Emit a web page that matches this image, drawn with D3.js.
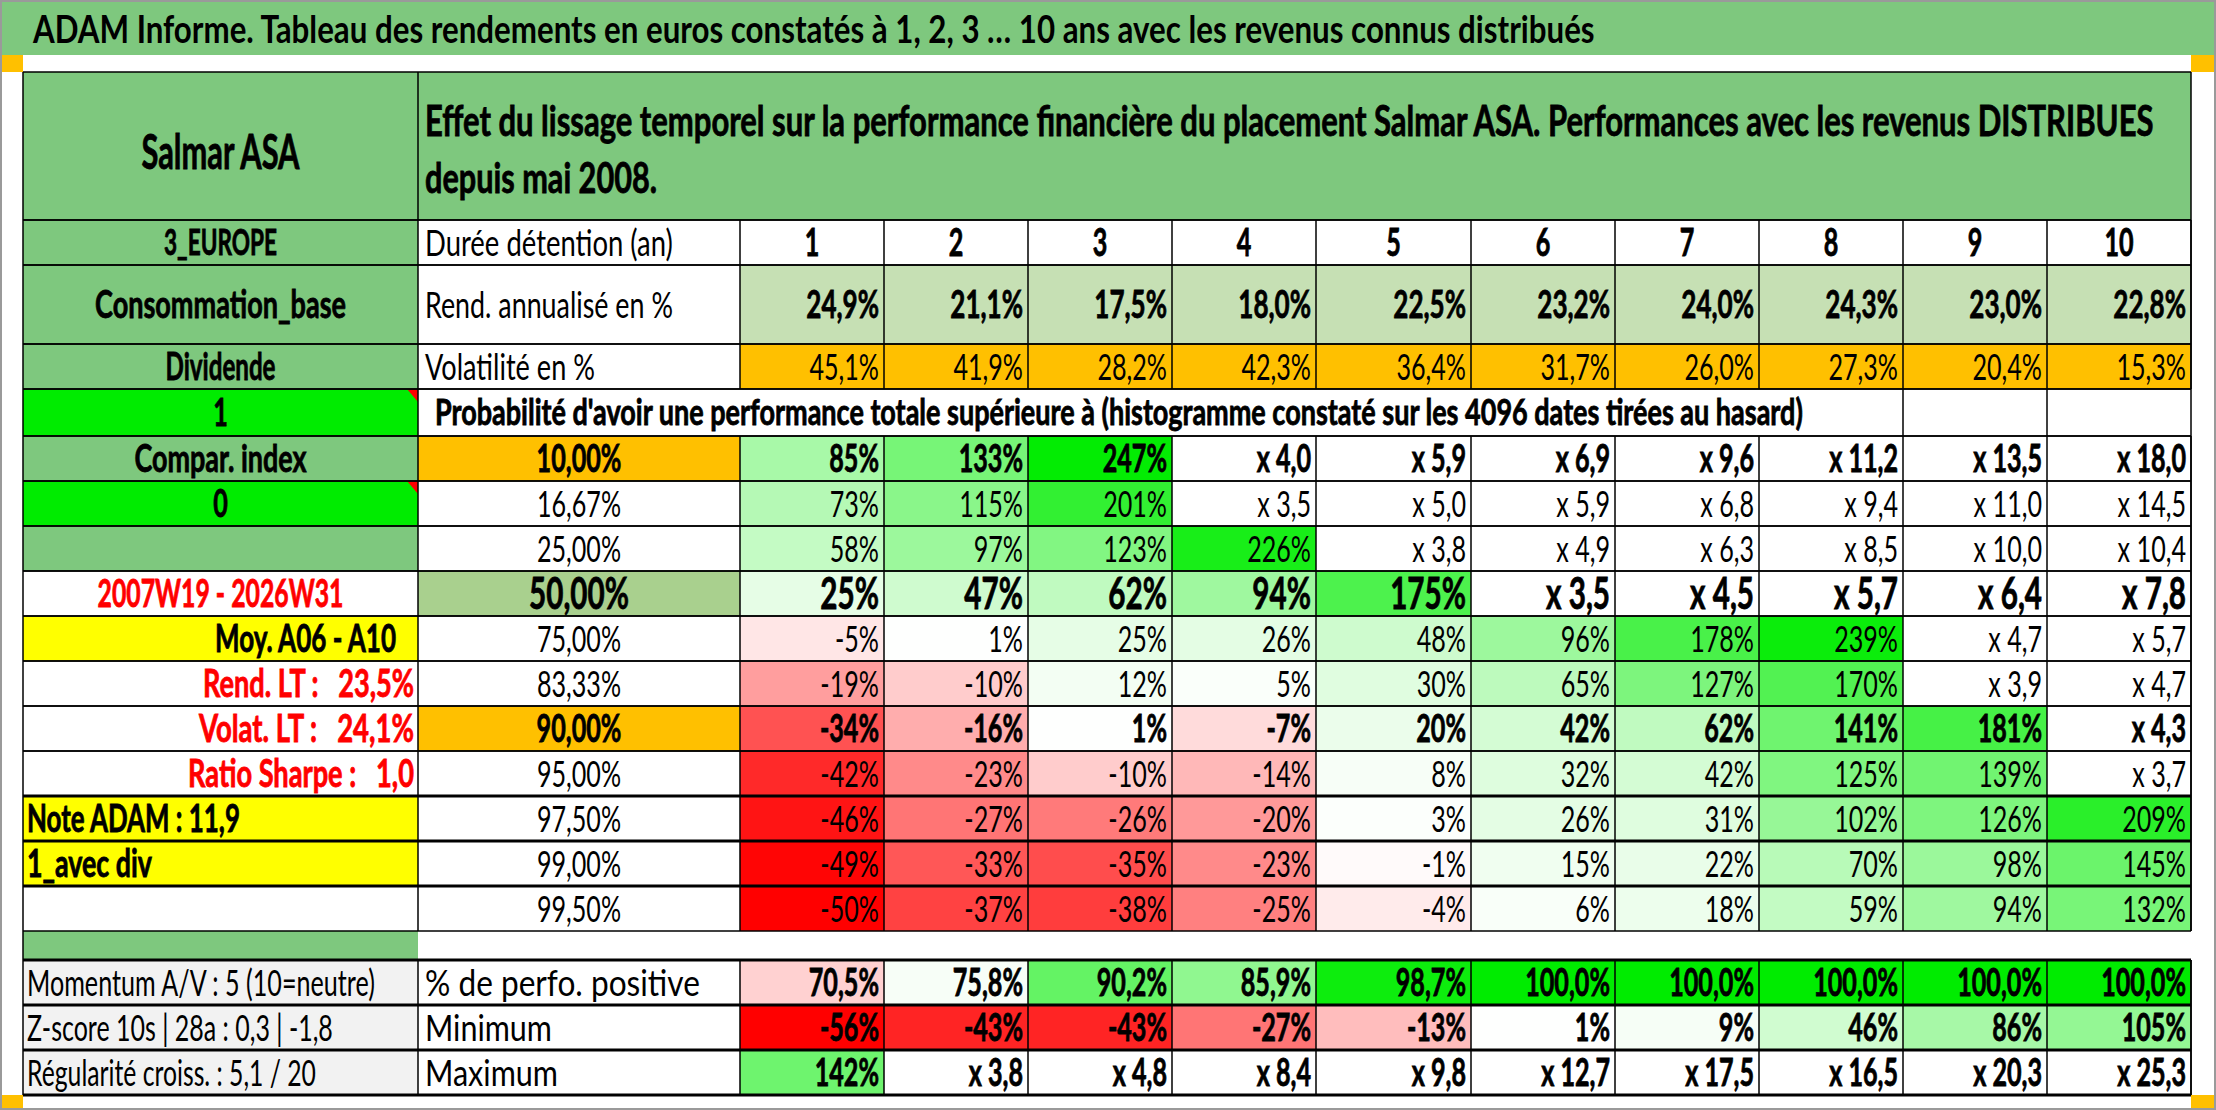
<!DOCTYPE html>
<html>
<head>
<meta charset="utf-8">
<script src="https://cdn.jsdelivr.net/npm/d3@7"></script>
<style>
  html, body { margin: 0; padding: 0; background: #fff; }
  svg text {
    font-family: Lato, "Open Sans", sans-serif;
    white-space: pre;
  }
</style>
</head>
<body>
<svg id="chart" width="2216" height="1110"></svg>
<script>
// ---- data ----
const years = [1, 2, 3, 4, 5, 6, 7, 8, 9, 10]
const rendAnnualise = [24.9, 21.1, 17.5, 18.0, 22.5, 23.2, 24.0, 24.3, 23.0, 22.8]
const volatilite = [45.1, 41.9, 28.2, 42.3, 36.4, 31.7, 26.0, 27.3, 20.4, 15.3]
const quantiles = ['10,00%', '16,67%', '25,00%', '50,00%', '75,00%', '83,33%', '90,00%', '95,00%', '97,50%', '99,00%', '99,50%']
// performance totale en % (une valeur >= 250 % s'affiche en multiple "x n")
const perfQ10 = [85, 133, 247, 300, 490, 590, 860, 1020, 1250, 1700]
const perfQ16 = [73, 115, 201, 250, 400, 490, 580, 840, 1000, 1350]
const perfQ25 = [58, 97, 123, 226, 280, 390, 530, 750, 900, 940]
const perfQ50 = [25, 47, 62, 94, 175, 250, 350, 470, 540, 680]
const perfQ75 = [-5, 1, 25, 26, 48, 96, 178, 239, 370, 470]
const perfQ83 = [-19, -10, 12, 5, 30, 65, 127, 170, 290, 370]
const perfQ90 = [-34, -16, 1, -7, 20, 42, 62, 141, 181, 330]
const perfQ95 = [-42, -23, -10, -14, 8, 32, 42, 125, 139, 270]
const perfQ975 = [-46, -27, -26, -20, 3, 26, 31, 102, 126, 209]
const perfQ99 = [-49, -33, -35, -23, -1, 15, 22, 70, 98, 145]
const perfQ995 = [-50, -37, -38, -25, -4, 6, 18, 59, 94, 132]
const perfPositive = [70.5, 75.8, 90.2, 85.9, 98.7, 100.0, 100.0, 100.0, 100.0, 100.0]
const perfMin = [-56, -43, -43, -27, -13, 1, 9, 46, 86, 105]
const perfMax = [142, 280, 380, 740, 880, 1170, 1650, 1550, 1930, 2430]
const leftLabels = ['Salmar ASA', '3_EUROPE', 'Consommation_base', 'Dividende', '1', 'Compar. index', '0', '',
  '2007W19 - 2026W31', 'Moy. A06 - A10', 'Rend. LT :   23,5%', 'Volat. LT :   24,1%', 'Ratio Sharpe :   1,0',
  'Note ADAM : 11,9', '1_avec div', '', '',
  'Momentum A/V : 5 (10=neutre)', 'Z-score 10s | 28a : 0,3 | -1,8', 'Régularité croiss. : 5,1 / 20']
const title = 'ADAM Informe. Tableau des rendements en euros constatés à 1, 2, 3 … 10 ans avec les revenus connus distribués'
const headLines = ['Effet du lissage temporel sur la performance financière du placement Salmar ASA. Performances avec les revenus DISTRIBUES',
  'depuis mai 2008.']
const probText = "Probabilité d'avoir une performance totale supérieure à (histogramme constaté sur les 4096 dates tirées au hasard)"
const midLabels = ['Durée détention (an)', 'Rend. annualisé en %', 'Volatilité en %', '% de perfo. positive', 'Minimum', 'Maximum']

// ---- layout ----
const GREEN = '#7ec87e', BRIGHT = '#00ec00', ORANGE = '#ffc000', YELLOW = '#ffff00', GREY = '#f2f2f2'
const SX = 0.67   // horizontal squeeze: the screenshot font is much narrower than Lato
const K = 1.34    // size factor

const qKeys = quantiles.map((d, i) => 'q' + i)
const rowKeys = ['head', 'duree', 'rend', 'vol', 'prob', ...qKeys, 'gap', 'pos', 'min', 'max']
const rowEdges = [72, 220, 265, 344, 389, 436, 481, 526, 571, 616, 661, 706, 751, 796, 841, 886, 931, 960, 1005, 1050, 1095]
const yTop = d3.scaleOrdinal().domain(rowKeys).range(rowEdges.slice(0, -1))
const yBot = d3.scaleOrdinal().domain(rowKeys).range(rowEdges.slice(1))
const yMid = k => (yTop(k) + yBot(k)) / 2

const colEdges = [740, 884, 1028, 1172, 1316, 1471, 1615, 1759, 1903, 2047, 2191]
const xL = d3.scaleOrdinal().domain(years).range(colEdges.slice(0, -1))
const xR = d3.scaleOrdinal().domain(years).range(colEdges.slice(1))
const X0 = 23, X1 = 418, X2 = 740, XE = 2191

const green = d3.scaleLinear().domain([0, 250]).range(['#ffffff', BRIGHT]).clamp(true)
const red = d3.scaleLinear().domain([-50, 0]).range(['#ff0000', '#ffffff']).clamp(true)
const heat = p => p >= 250 ? '#ffffff' : (p >= 0 ? green(p) : red(p))
const posScale = d3.scaleLinear().domain([50, 75, 100]).range(['#ff0000', '#ffffff', BRIGHT]).clamp(true)

const f1 = d3.format('.1f')
const fmtPerf = p => p >= 250 ? 'x ' + f1((p + 100) / 100).replace('.', ',') : Math.round(p) + '%'
const fmt1 = v => f1(v).replace('.', ',') + '%'

const svg = d3.select('#chart')
const gBg = svg.append('g'), gGrid = svg.append('g'), gTxt = svg.append('g')

function txt(x, yc, s, o = {}) {
  const fs = (o.size || 28) * K
  const color = o.color || '#000'
  const t = gTxt.append('text')
    .attr('text-anchor', o.anchor || 'start')
    .attr('font-size', fs)
    .attr('font-weight', o.bold ? 700 : 400)
    .attr('fill', color)
    .text(s)
  // the screenshot's bold is heavier than Lato Bold
  if (o.bold && !o.plain) t.attr('stroke', color).attr('stroke-width', 0.8)
  const sx = o.fit ? o.fit / t.node().getComputedTextLength() : SX
  t.attr('transform', `translate(${x},${yc + 0.355 * fs}) scale(${sx},1)`)
  return t
}
const rect = (x, y, w, h, fill) => gBg.append('rect').attr('x', x).attr('y', y).attr('width', w).attr('height', h).attr('fill', fill)

// ---- frame & title ----
rect(0, 0, 2216, 1110, '#fff')
rect(0, 0, 2216, 55, GREEN)
rect(0, 55, X0, 17, ORANGE); rect(XE, 55, 2216 - XE, 17, ORANGE)
rect(0, 1095, X0, 15, ORANGE); rect(XE, 1095, 2216 - XE, 15, ORANGE)
gBg.append('rect').attr('x', 1).attr('y', 1).attr('width', 2214).attr('height', 1108)
  .attr('fill', 'none').attr('stroke', '#9a9a9a').attr('stroke-width', 2)
txt(33, 29, title, { size: 29, bold: true, plain: true, fit: 1562 })

// ---- backgrounds ----
const leftFill = { head: GREEN, duree: GREEN, rend: GREEN, vol: GREEN, prob: BRIGHT, q0: GREEN, q1: BRIGHT, q2: GREEN,
  q3: '#fff', q4: YELLOW, q5: '#fff', q6: '#fff', q7: '#fff', q8: YELLOW, q9: YELLOW, q10: '#fff', gap: GREEN,
  pos: GREY, min: GREY, max: GREY }
rowKeys.forEach(k => rect(X0, yTop(k), X1 - X0, yBot(k) - yTop(k), leftFill[k]))
rect(X1, yTop('head'), XE - X1, yBot('head') - yTop('head'), GREEN)
rect(X1, yTop('q0'), X2 - X1, 45, ORANGE)
rect(X1, yTop('q3'), X2 - X1, 45, '#a9d08e')
rect(X1, yTop('q6'), X2 - X1, 45, ORANGE)

// comment markers on the two switches
;['prob', 'q1'].forEach(k => gBg.append('path')
  .attr('d', `M${X1 - 11},${yTop(k)}L${X1},${yTop(k)}L${X1},${yTop(k) + 13}Z`).attr('fill', '#ff0000'))

const cellRow = (key, values, color) => gBg.append('g').selectAll('rect').data(years).join('rect')
  .attr('x', d => xL(d)).attr('y', yTop(key))
  .attr('width', d => xR(d) - xL(d)).attr('height', yBot(key) - yTop(key))
  .attr('fill', (d, i) => color(values[i]))

const perfRows = [perfQ10, perfQ16, perfQ25, perfQ50, perfQ75, perfQ83, perfQ90, perfQ95, perfQ975, perfQ99, perfQ995]
cellRow('rend', rendAnnualise, () => '#c6e0b4')
cellRow('vol', volatilite, () => ORANGE)
perfRows.forEach((vals, i) => cellRow(qKeys[i], vals, heat))
cellRow('pos', perfPositive, posScale)
cellRow('min', perfMin, heat)
cellRow('max', perfMax, heat)

// ---- grid ----
const lines = []
const thick = new Set(['q7', 'q8', 'q9', 'pos', 'min', 'max'])
rowKeys.forEach(k => {
  if (k === 'gap') return
  const t = yTop(k), b = yBot(k)
  lines.push({ x1: X0, y1: t, x2: XE, y2: t, w: k === 'pos' ? 3 : 1.5 })
  lines.push({ x1: X0, y1: b, x2: XE, y2: b, w: thick.has(k) ? 3 : 1.5 })
  const xs = [X0, X1, XE]
  if (k === 'prob') xs.push(1903, 2047)
  else if (k !== 'head') xs.push(...colEdges)
  xs.forEach(x => lines.push({ x1: x, y1: t, x2: x, y2: b, w: 1.5 }))
})
lines.push({ x1: X0, y1: yTop('gap'), x2: X0, y2: yBot('gap'), w: 1.5 })
gGrid.selectAll('line').data(lines).join('line')
  .attr('x1', d => d.x1).attr('y1', d => d.y1).attr('x2', d => d.x2).attr('y2', d => d.y2)
  .attr('stroke', '#000').attr('stroke-width', d => d.w)

// ---- left column: [row, label index, x, anchor, width, bold, colour] ----
const cx = (X0 + X1) / 2
const leftSpec = [
  ['duree', 1, cx, 'middle', 113, 1], ['rend', 2, cx, 'middle', 251, 1], ['vol', 3, cx, 'middle', 110, 1],
  ['prob', 4, cx, 'middle', 0, 1], ['q0', 5, cx, 'middle', 172, 1], ['q1', 6, cx, 'middle', 0, 1],
  ['q3', 8, cx, 'middle', 246, 1, '#ff0000'], ['q4', 9, 396, 'end', 181, 1],
  ['q5', 10, 414, 'end', 211, 1, '#ff0000'], ['q6', 11, 414, 'end', 215, 1, '#ff0000'],
  ['q7', 12, 414, 'end', 226, 1, '#ff0000'], ['q8', 13, 27, 'start', 213, 1], ['q9', 14, 27, 'start', 125, 1],
  ['pos', 17, 27, 'start', 348, 0], ['min', 18, 27, 'start', 306, 0], ['max', 19, 27, 'start', 289, 0]
]
txt(cx, 152, leftLabels[0], { size: 35, bold: true, anchor: 'middle', fit: 158 })
leftSpec.forEach(([k, i, x, anchor, w, bold, color]) =>
  txt(x, yMid(k), leftLabels[i], { size: k === 'duree' ? 27 : 28, bold: !!bold, anchor, color, fit: w || null }))

// ---- header & label column ----
txt(425, 121, headLines[0], { size: 32, bold: true, fit: 1729 })
txt(425, 178, headLines[1], { size: 32, bold: true, fit: 232 })
const midSpec = [['duree', 248], ['rend', 248], ['vol', 170], ['pos', 275], ['min', 127], ['max', 133]]
midSpec.forEach(([k, w], i) => txt(425, yMid(k), midLabels[i], { size: 28, fit: w }))
txt(435, yMid('prob'), probText, { size: 27, bold: true, fit: 1368 })
quantiles.forEach((q, i) => {
  const big = i === 3, bold = i === 0 || i === 3 || i === 6
  txt((X1 + X2) / 2, yMid(qKeys[i]), q, { size: big ? 33 : 28, bold, anchor: 'middle' })
})

// ---- values ----
const valueRow = (key, values, fmt, o) => years.forEach((y, i) =>
  txt(xR(y) - 5, yMid(key), fmt(values[i]), Object.assign({ anchor: 'end' }, o)))
years.forEach(y => txt((xL(y) + xR(y)) / 2, yMid('duree'), String(y), { size: 28, bold: true, anchor: 'middle' }))
valueRow('rend', rendAnnualise, fmt1, { size: 29, bold: true })
valueRow('vol', volatilite, fmt1, { size: 28 })
perfRows.forEach((vals, i) => {
  const big = i === 3, bold = i === 0 || i === 3 || i === 6
  valueRow(qKeys[i], vals, fmtPerf, { size: big ? 33 : 28, bold })
})
valueRow('pos', perfPositive, fmt1, { size: 28, bold: true })
valueRow('min', perfMin, fmtPerf, { size: 28, bold: true })
valueRow('max', perfMax, fmtPerf, { size: 28, bold: true })
</script>
</body>
</html>
